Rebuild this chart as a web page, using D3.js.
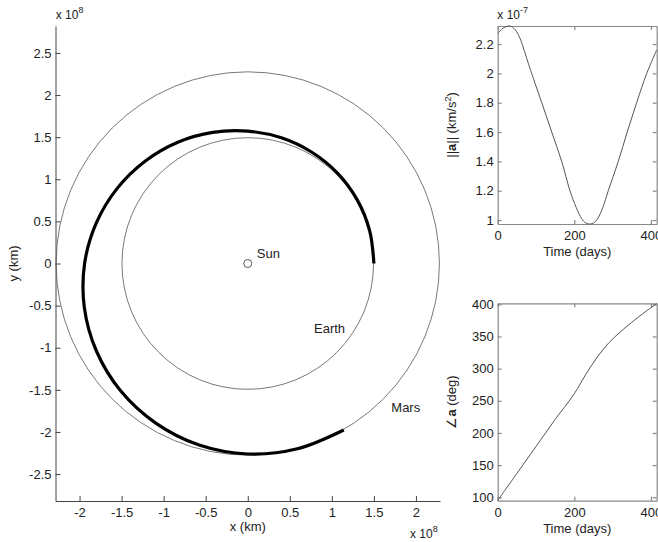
<!DOCTYPE html>
<html>
<head>
<meta charset="utf-8">
<script src="https://d3js.org/d3.v7.min.js"></script>
<style>
  body { margin: 0; background: #fff; }
  svg { font-family: "Liberation Sans", Arial, Helvetica, sans-serif; }
  .tick text { font-size: 13px; fill: #222; }
  .lbl { font-size: 13px; fill: #222; }
</style>
</head>
<body>
<svg id="chart" width="658" height="542"></svg>
<script>

// orbit radii, units of 1e8 km
var earthRadius = 1.496;
var marsRadius = 2.279;

// transfer trajectory: polar angle (deg) and radius (1e8 km)
var trajAngleDeg = [0, 15, 30, 45, 60, 75, 90, 105, 120, 135, 150, 165, 180, 195, 210, 225, 240, 255, 270, 285, 300];
var trajRadius   = [1.500, 1.501, 1.505, 1.513, 1.525, 1.545, 1.572, 1.612, 1.663, 1.722, 1.790, 1.864, 1.940, 2.012, 2.078, 2.138, 2.188, 2.232, 2.262, 2.278, 2.283];

// acceleration magnitude, units of 1e-7 km/s^2
var accelDays  = [0, 15, 32, 45, 58, 70, 80, 88.6, 115, 141, 167, 188.6, 205, 219, 230, 239.5, 250, 260, 275, 288.6, 314.7, 338, 362.6, 389, 415];
var accelValue = [2.273, 2.310, 2.323, 2.300, 2.240, 2.150, 2.068, 2.0, 1.8, 1.6, 1.4, 1.2, 1.085, 1.01, 0.980, 0.973, 0.980, 1.005, 1.09, 1.2, 1.4, 1.6, 1.8, 2.0, 2.16];

// acceleration direction, degrees
var angleDays  = [0, 50, 100, 150, 200, 230, 260, 290, 320, 350, 380, 415];
var angleValue = [95, 137, 179, 221, 261, 291, 318, 340, 357, 372, 386, 401];

// tick labels
var mainTicks = [-2.5, -2, -1.5, -1, -0.5, 0, 0.5, 1, 1.5, 2, 2.5];
var timeTicks = [0, 200, 400];
var accelTicks = [1, 1.2, 1.4, 1.6, 1.8, 2, 2.2];
var angleTicks = [100, 150, 200, 250, 300, 350, 400];

// text labels in the orbit plot (data coords, 1e8 km)
var bodyLabels = [
  {name: "Sun", x: 0.107, y: 0.063},
  {name: "Earth", x: 0.788, y: -0.829},
  {name: "Mars", x: 1.707, y: -1.765}
];

var svg = d3.select("#chart");
var fmt = function(d) { return String(d); };

function styleAxis(g, color, w) {
  g.select(".domain").attr("stroke", color).attr("stroke-width", w);
  g.selectAll(".tick line").attr("stroke", color).attr("stroke-width", w);
  g.attr("font-family", null).attr("font-size", null);
}

// ---------- main orbit plot ----------
var x = d3.scaleLinear().domain([-2.286, 2.286]).range([55.5, 440]);
var y = d3.scaleLinear().domain([-2.82, 2.82]).range([501, 26]);

svg.append("g")
  .attr("transform", "translate(0,501)")
  .call(d3.axisBottom(x).tickValues(mainTicks.filter(function(d) { return Math.abs(d) <= 2; }))
    .tickFormat(fmt).tickSizeInner(-5).tickSizeOuter(0).tickPadding(7))
  .call(styleAxis, "#444", 1);

svg.append("g")
  .attr("transform", "translate(55.5,0)")
  .call(d3.axisLeft(y).tickValues(mainTicks).tickFormat(fmt).tickSizeInner(-5).tickSizeOuter(0).tickPadding(4))
  .call(styleAxis, "#444", 1);

var orbits = svg.append("g");
[earthRadius, marsRadius].forEach(function(R) {
  orbits.append("circle")
    .attr("cx", x(0)).attr("cy", y(0))
    .attr("r", x(R) - x(0))
    .attr("fill", "none")
    .attr("stroke", "#555")
    .attr("stroke-width", 0.8);
});

var traj = trajAngleDeg.map(function(a, i) {
  var t = a * Math.PI / 180;
  return [trajRadius[i] * Math.cos(t), trajRadius[i] * Math.sin(t)];
});

svg.append("path")
  .datum(traj)
  .attr("fill", "none")
  .attr("stroke", "#000")
  .attr("stroke-width", 3.2)
  .attr("d", d3.line()
    .x(function(d) { return x(d[0]); })
    .y(function(d) { return y(d[1]); })
    .curve(d3.curveCatmullRom));

svg.append("circle")
  .attr("cx", x(0)).attr("cy", y(0)).attr("r", 4)
  .attr("fill", "#fff").attr("stroke", "#444").attr("stroke-width", 0.9);

svg.selectAll(".body")
  .data(bodyLabels)
  .enter().append("text")
    .attr("class", "lbl")
    .attr("x", function(d) { return x(d.x); })
    .attr("y", function(d) { return y(d.y); })
    .text(function(d) { return d.name; });

svg.append("text").attr("class", "lbl")
  .attr("x", x(0)).attr("y", 531)
  .style("text-anchor", "middle")
  .text("x (km)");

svg.append("text").attr("class", "lbl")
  .attr("transform", "translate(17.5," + y(0) + ") rotate(-90)")
  .style("text-anchor", "middle")
  .text("y (km)");

function scaleNote(px, py, exp) {
  var t = svg.append("text").attr("x", px).attr("y", py).attr("font-size", 12).attr("fill", "#222");
  t.append("tspan").text("x 10");
  t.append("tspan").attr("dy", -6).attr("font-size", 9).text(exp);
}
scaleNote(55.7, 19, "8");
scaleNote(410, 538, "8");

// ---------- right plots ----------
var tx = d3.scaleLinear().domain([0, 415]).range([497.7, 656.7]);

function sidePlot(top, bottom, yDomain, ticks, days, vals) {
  var sy = d3.scaleLinear().domain(yDomain).range([bottom, top]);
  var col = "#888";

  svg.append("g").attr("transform", "translate(0," + bottom + ")")
    .call(d3.axisBottom(tx).tickValues(timeTicks).tickFormat(fmt).tickSizeInner(-4).tickSizeOuter(0).tickPadding(7))
    .call(styleAxis, col, 1.2);
  svg.append("g").attr("transform", "translate(0," + top + ")")
    .call(d3.axisTop(tx).tickValues(timeTicks).tickFormat("").tickSizeInner(-4).tickSizeOuter(0))
    .call(styleAxis, col, 1.2);
  svg.append("g").attr("transform", "translate(497.7,0)")
    .call(d3.axisLeft(sy).tickValues(ticks).tickFormat(fmt).tickSizeInner(-4).tickSizeOuter(0).tickPadding(4))
    .call(styleAxis, col, 1.2);
  svg.append("g").attr("transform", "translate(656.7,0)")
    .call(d3.axisRight(sy).tickValues(ticks).tickFormat("").tickSizeInner(-4).tickSizeOuter(0))
    .call(styleAxis, col, 1.2);

  svg.append("path")
    .datum(days.map(function(d, i) { return [d, vals[i]]; }))
    .attr("fill", "none")
    .attr("stroke", "#555")
    .attr("stroke-width", 1)
    .attr("d", d3.line()
      .x(function(d) { return tx(d[0]); })
      .y(function(d) { return sy(d[1]); })
      .curve(d3.curveCatmullRom));

  svg.append("text").attr("class", "lbl")
    .attr("x", tx(207.5)).attr("y", bottom + 32)
    .style("text-anchor", "middle")
    .text("Time (days)");

  return sy;
}

sidePlot(26, 224, [0.973, 2.323], accelTicks, accelDays, accelValue);
sidePlot(303.3, 500.7, [94.7, 401.5], angleTicks, angleDays, angleValue);

var la = svg.append("text").attr("class", "lbl")
  .attr("transform", "translate(456,125) rotate(-90)")
  .style("text-anchor", "middle");
la.append("tspan").text("||");
la.append("tspan").attr("font-weight", "bold").text("a");
la.append("tspan").text("|| (km/s");
la.append("tspan").attr("dy", -5).attr("font-size", 9).text("2");
la.append("tspan").attr("dy", 5).text(")");

var lb = svg.append("text").attr("class", "lbl")
  .attr("transform", "translate(456,402) rotate(-90)")
  .style("text-anchor", "middle");
lb.append("tspan").text("\u2220");
lb.append("tspan").attr("font-weight", "bold").text("a");
lb.append("tspan").text(" (deg)");

scaleNote(497.3, 19, "-7");

</script>
</body>
</html>
